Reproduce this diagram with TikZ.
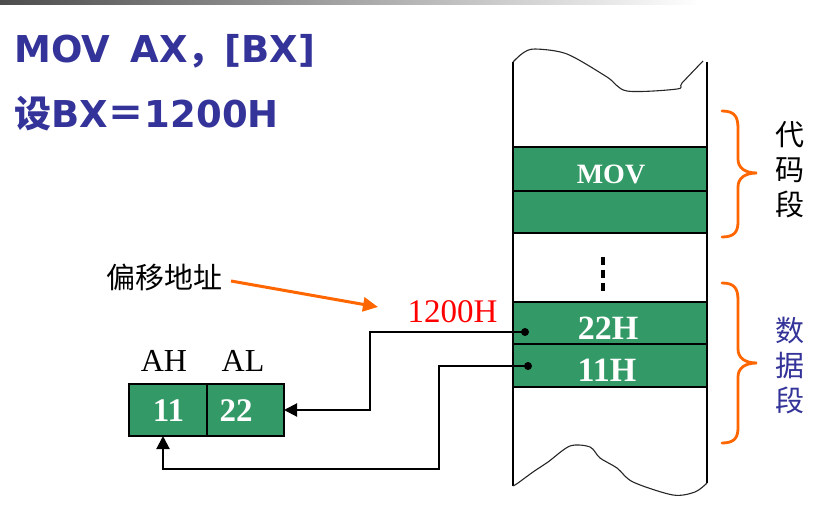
\documentclass[tikz,border=0pt]{standalone}
\usepackage{fontspec}
\setmainfont{Liberation Serif}
\newfontfamily\titlefont{DejaVu Sans}
\newfontfamily\cjk{Noto Sans CJK SC}
\usetikzlibrary{arrows.meta,calc}
\definecolor{titleblue}{RGB}{51,51,153}
\definecolor{cellgreen}{RGB}{51,153,102}
\definecolor{braceorange}{RGB}{255,102,0}
\begin{document}
\begin{tikzpicture}[x=1pt,y=-1pt,
  cell/.style={draw=black,line width=1.2pt,fill=cellgreen,minimum width=194pt,inner sep=0pt,outer sep=0pt},
  celltext/.style={text=white,inner sep=0pt,font=\fontsize{34}{34}\selectfont\bfseries},
  reg/.style={draw=black,line width=1.2pt,fill=cellgreen,inner sep=0pt,outer sep=0pt,minimum height=52pt},
  plain/.style={inner sep=0pt,font=\fontsize{32}{32}\selectfont},
  conn/.style={line width=2pt,black},
  tipped/.style={conn,-{Triangle[length=13pt,width=13pt]}},
  colline/.style={line width=1.3pt,black},
  wave/.style={line width=1.1pt,black!85},
  brc/.style={draw=braceorange,line width=2.8pt,line cap=round},
  titletext/.style={anchor=base west,inner sep=0pt,text=titleblue,font=\titlefont\bfseries\fontsize{37}{40}\selectfont},
  sidetext/.style={inner sep=0pt,align=center,font=\cjk\fontsize{29}{35}\selectfont}]
\useasboundingbox (0,0) rectangle (825,519);
% top bar
\shade[left color=black!70,right color=white] (0,0) rectangle (700,5);
% title
\node[titletext] (title1) at (14,63) {MOV\hspace{0.55em}AX{\cjk ，}[BX]};
\node[titletext] (title2) at (14,128) {{\cjk 设}BX{\cjk ＝}1200H};
% memory column
\node[cell,minimum height=44pt] (cmov) at (610,169) {};
\node[cell,minimum height=42pt] (cblank) at (610,212) {};
\node[cell,minimum height=42pt] (c22) at (610,323) {};
\node[cell,minimum height=43pt] (c11) at (610,365.5) {};
\node[celltext,font=\fontsize{28}{28}\selectfont\bfseries] (tmov) at (611,174.5) {MOV};
\node[celltext] (t22) at (608,328.5) {22H};
\node[celltext] (t11) at (607,370.5) {11H};
\draw[colline] (513,62) -- (513,486);
\draw[colline] (707,62) -- (707,483);
\draw[wave] plot[smooth,tension=0.5] coordinates {(513,62) (523,53) (535,49) (567,54) (607,77) (627,91) (677,89) (682,83) (703,61)};
\draw[wave] plot[smooth,tension=0.5] coordinates {(513,486) (518,483) (533,472) (548,462) (570,446) (590,447) (600,458) (617,468) (633,482) (673,495) (695,492) (707,483)};
\draw[line width=4pt,dash pattern=on 7.5pt off 5.5pt] (603,257) -- (603,291);
% braces
\draw[brc] (722,111) .. controls (734,111) and (738,116) .. (738,128) -- (738,159)
  .. controls (738,168) and (745,173) .. (757,173)
  .. controls (745,173) and (738,178) .. (738,187) -- (738,222)
  .. controls (738,232) and (734,237) .. (722,237);
\draw[brc] (722,283) .. controls (734,283) and (738,288) .. (738,300) -- (738,349)
  .. controls (738,358) and (745,363) .. (757,363)
  .. controls (745,363) and (738,368) .. (738,377) -- (738,428)
  .. controls (738,438) and (734,443) .. (722,443);
\node[sidetext] (codeseg) at (790,169.5) {代\\码\\段};
\node[sidetext,text=titleblue] (dataseg) at (790,366) {数\\据\\段};
% register
\node[reg,minimum width=78pt] (ah) at (168,410) {};
\node[reg,minimum width=77pt] (al) at (245.5,410) {};
\node[celltext,font=\fontsize{33}{33}\selectfont\bfseries] (t11r) at (168.5,410.5) {11};
\node[celltext,font=\fontsize{33}{33}\selectfont\bfseries] (t22r) at (236,410.5) {22};
\node[plain] (lah) at (164,360.5) {AH};
\node[plain] (lal) at (243,360.5) {AL};
% labels
\node[plain,font=\fontsize{33}{33}\selectfont,text=red] (addr) at (452.5,311.5) {1200H};
\node[inner sep=0pt,font=\cjk\fontsize{29}{29}\selectfont] (offset) at (164,277) {偏移地址};
\coordinate (oastart) at (231,281);
\coordinate (oaend) at (378,307);
\draw[braceorange,line width=3pt,-{Triangle[length=15pt,width=14pt]}] (oastart) -- (oaend);
% connectors
\coordinate (d22) at (525,332);
\coordinate (d11) at (528,366);
\coordinate (turnA) at (370,410);
\coordinate (turnB) at (439,469);
\fill (d22) circle (4pt);
\fill (d11) circle (4pt);
\draw[tipped] (d22) -| (turnA) -- (al.east);
\draw[tipped] (d11) -| (turnB) -| ([xshift=-5pt]ah.south);
\end{tikzpicture}
\end{document}
